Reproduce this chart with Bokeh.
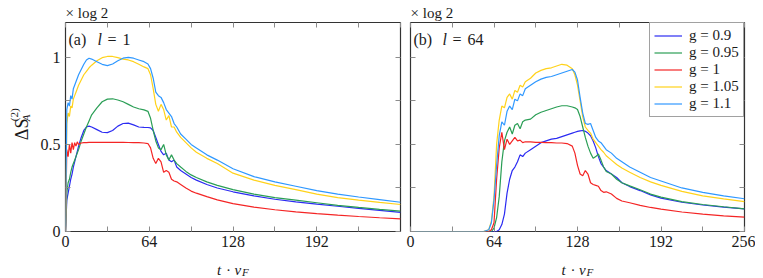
from bokeh.plotting import figure
from bokeh.models import Range1d, FixedTicker, LinearAxis, Label, CustomLabelingPolicy
from bokeh.layouts import row, column
from bokeh.core.properties import value
from bokeh.embed import file_html
from bokeh.resources import INLINE
import math

FONT = "Liberation Serif"
TXT = "#1a1a1a"

# ---------------- data ----------------
series_names = ["g = 0.9", "g = 0.95", "g = 1", "g = 1.05", "g = 1.1"]
colors = ["#2b2bf2", "#2a9e55", "#f42525", "#ffd21a", "#2f98ff"]

# panel (a): l = 1
t_a = [0, 1, 2, 3, 4, 5, 6, 7, 8, 9,
       10, 12, 14, 16, 18, 20, 24, 28, 32, 36,
       40, 44, 48, 52, 56, 60, 63, 65, 67, 69,
       71, 73, 75, 77, 79, 81, 83, 85, 88, 92,
       96, 100, 108, 116, 128, 144, 160, 176, 192, 208,
       224, 240, 256]
a_g090 = [0, 0.18, 0.22, 0.26, 0.30, 0.33, 0.37, 0.40, 0.43, 0.46,
          0.49, 0.54, 0.58, 0.60, 0.605, 0.60, 0.585, 0.57, 0.568, 0.58,
          0.605, 0.62, 0.622, 0.612, 0.60, 0.598, 0.597, 0.595, 0.58, 0.54,
          0.50, 0.46, 0.44, 0.45, 0.41, 0.40, 0.41, 0.37, 0.35, 0.33,
          0.31, 0.295, 0.27, 0.25, 0.228, 0.205, 0.185, 0.17, 0.157, 0.145,
          0.133, 0.121, 0.11]
a_g095 = [0, 0.22, 0.28, 0.30, 0.34, 0.37, 0.39, 0.41, 0.43, 0.45,
          0.47, 0.52, 0.56, 0.60, 0.635, 0.67, 0.71, 0.745, 0.76, 0.762,
          0.755, 0.745, 0.73, 0.715, 0.705, 0.698, 0.69, 0.65, 0.58, 0.52,
          0.48, 0.47, 0.50, 0.44, 0.41, 0.44, 0.41, 0.39, 0.37, 0.345,
          0.325, 0.31, 0.285, 0.265, 0.24, 0.215, 0.195, 0.18, 0.165, 0.15,
          0.138, 0.127, 0.117]
a_g100 = [0, 0.47, 0.43, 0.50, 0.45, 0.51, 0.47, 0.51, 0.49, 0.515,
          0.50, 0.508, 0.51, 0.51, 0.512, 0.512, 0.512, 0.512, 0.512, 0.512,
          0.512, 0.512, 0.511, 0.51, 0.51, 0.508, 0.505, 0.48, 0.42, 0.39,
          0.42, 0.40, 0.34, 0.35, 0.34, 0.30, 0.29, 0.285, 0.27, 0.25,
          0.232, 0.22, 0.2, 0.182, 0.16, 0.14, 0.125, 0.113, 0.103, 0.094,
          0.086, 0.079, 0.073]
a_g105 = [0, 0.62, 0.68, 0.66, 0.72, 0.71, 0.76, 0.78, 0.80, 0.82,
          0.84, 0.87, 0.90, 0.92, 0.94, 0.955, 0.98, 0.998, 1.005, 1.005,
          0.998, 0.99, 0.985, 0.975, 0.96, 0.945, 0.935, 0.90, 0.82, 0.73,
          0.69, 0.73, 0.70, 0.64, 0.665, 0.60, 0.60, 0.57, 0.54, 0.51,
          0.48, 0.455, 0.42, 0.39, 0.335, 0.295, 0.265, 0.24, 0.215, 0.195,
          0.18, 0.167, 0.155]
a_g110 = [0, 0.70, 0.74, 0.72, 0.78, 0.76, 0.82, 0.84, 0.86, 0.88,
          0.90, 0.93, 0.96, 0.985, 0.995, 0.99, 0.975, 0.96, 0.952, 0.962,
          0.98, 0.995, 1.0, 0.995, 0.985, 0.975, 0.962, 0.935, 0.88, 0.80,
          0.78, 0.77, 0.74, 0.70, 0.68, 0.66, 0.62, 0.60, 0.56, 0.53,
          0.50, 0.48, 0.44, 0.41, 0.36, 0.315, 0.285, 0.26, 0.235, 0.215,
          0.198, 0.183, 0.168]

# panel (b): l = 64
t_b = [0, 56, 60, 62, 64, 66, 68, 70, 72, 74,
       76, 78, 80, 82, 84, 86, 88, 92, 96, 100,
       104, 108, 112, 116, 120, 124, 126, 128, 130, 132,
       134, 136, 138, 140, 142, 144, 146, 148, 150, 154,
       158, 162, 168, 176, 184, 192, 208, 224, 240, 256]
b_g090 = [0, 0, 0, 0, 0, 0, 0.01, 0.04, 0.1, 0.22,
          0.30, 0.35, 0.37, 0.40, 0.44, 0.43, 0.45, 0.47, 0.49, 0.51,
          0.52, 0.53, 0.535, 0.545, 0.555, 0.565, 0.57, 0.575, 0.578, 0.58,
          0.575, 0.565, 0.55, 0.52, 0.48, 0.43, 0.39, 0.37, 0.35, 0.33,
          0.31, 0.28, 0.258, 0.235, 0.21, 0.192, 0.168, 0.152, 0.14, 0.13]
b_g095 = [0, 0, 0, 0, 0.02, 0.08, 0.2, 0.40, 0.52, 0.57,
          0.60, 0.56, 0.61, 0.62, 0.59, 0.63, 0.64, 0.645, 0.67, 0.685,
          0.695, 0.705, 0.715, 0.722, 0.722, 0.715, 0.71, 0.70, 0.66, 0.60,
          0.54, 0.49, 0.45, 0.42, 0.43, 0.445, 0.41, 0.37, 0.345, 0.33,
          0.30, 0.28, 0.262, 0.24, 0.215, 0.197, 0.172, 0.155, 0.142, 0.13]
b_g100 = [0, 0, 0, 0.01, 0.05, 0.3, 0.48, 0.57, 0.47, 0.53,
          0.50, 0.52, 0.54, 0.52, 0.525, 0.51, 0.515, 0.515, 0.512, 0.512,
          0.51, 0.51, 0.508, 0.508, 0.505, 0.49, 0.45, 0.38, 0.33, 0.32,
          0.35, 0.33, 0.28, 0.27, 0.265, 0.26, 0.235, 0.225, 0.228, 0.215,
          0.19, 0.175, 0.165, 0.15, 0.138, 0.128, 0.112, 0.1, 0.09, 0.082]
b_g105 = [0, 0, 0.01, 0.06, 0.2, 0.5, 0.64, 0.72, 0.71, 0.77,
          0.79, 0.76, 0.81, 0.80, 0.84, 0.83, 0.86, 0.88, 0.91, 0.925,
          0.935, 0.94, 0.95, 0.96, 0.955, 0.935, 0.90, 0.84, 0.75, 0.66,
          0.60, 0.58, 0.565, 0.53, 0.51, 0.49, 0.47, 0.455, 0.435, 0.41,
          0.385, 0.365, 0.34, 0.31, 0.285, 0.265, 0.23, 0.205, 0.187, 0.172]
b_g110 = [0, 0, 0.01, 0.05, 0.18, 0.38, 0.55, 0.63, 0.61, 0.69,
          0.72, 0.70, 0.76, 0.75, 0.79, 0.78, 0.82, 0.84, 0.86, 0.875,
          0.885, 0.89, 0.90, 0.91, 0.92, 0.93, 0.915, 0.87, 0.77, 0.68,
          0.62, 0.615, 0.62, 0.58, 0.54, 0.52, 0.51, 0.49, 0.47, 0.45,
          0.42, 0.40, 0.37, 0.34, 0.31, 0.29, 0.25, 0.225, 0.205, 0.188]

x_major_a = [0, 64, 128, 192]
x_major_b = [0, 64, 128, 192, 256]
x_minor = [32, 96, 160, 224]
y_major = [0, 0.5, 1.0]
y_minor = [0.25, 0.75]
y_labels = {0.0: "0", 0.5: "0.5", 1.0: "1"}
unit_text = "× log 2"

NO_LABELS = "return new Set()"
PANEL_H = 254


def style_axis(ax, major, minor, show_labels, overrides=None):
    ax.ticker = FixedTicker(ticks=major, minor_ticks=minor)
    ax.axis_line_color = None
    ax.major_tick_in = 5
    ax.major_tick_out = 0
    ax.minor_tick_in = 5
    ax.minor_tick_out = 0
    ax.major_tick_line_color = "#8c8c8c"
    ax.minor_tick_line_color = "#8c8c8c"
    ax.major_tick_line_width = 1
    ax.minor_tick_line_width = 1
    ax.major_label_text_font = FONT
    ax.major_label_text_color = TXT
    if show_labels:
        if overrides:
            ax.major_label_overrides = overrides
        ax.major_label_text_font_size = "16px"
    else:
        ax.major_label_text_font_size = "0px"
        ax.major_label_standoff = 0
        ax.major_label_policy = CustomLabelingPolicy(code=NO_LABELS)


def lbl(p, x, y, text, dx=0, dy=0, size="16px", style="normal"):
    p.add_layout(Label(x=x, y=y, text=text, x_offset=dx, y_offset=dy,
                       text_font=FONT, text_font_size=size, text_font_style=style,
                       text_align="left", text_baseline="alphabetic",
                       text_color=TXT))


def txt(fig, x, y, s, size="15px", style="normal", align="left", angle=0.0):
    fig.text(x=[x], y=[y], text=[s], text_font=value(FONT), text_font_size=size,
             text_font_style=style, text_align=align, text_baseline="alphabetic",
             angle=angle, text_color=TXT)


def make_panel(width, bl, br, t, ys, x_major, ylabels_on, tag, lval, with_legend):
    p = figure(width=width, height=PANEL_H, x_range=Range1d(0, 256), y_range=Range1d(0, 1.2),
               output_backend="svg", toolbar_location=None,
               min_border_left=bl, min_border_right=br, min_border_top=22, min_border_bottom=23)
    p.grid.visible = False
    p.outline_line_color = "#333333"
    p.outline_line_width = 1.2
    p.background_fill_color = "white"
    p.border_fill_color = "white"
    # "x log 2" multiplier as the panel title (top-left)
    p.title.text = unit_text
    p.title.align = "left"
    p.title.offset = 0
    p.title.standoff = 3
    p.title.text_font = FONT
    p.title.text_font_size = "15px"
    p.title.text_font_style = "normal"
    p.title.text_color = TXT

    style_axis(p.xaxis[0], x_major, x_minor, True)
    p.xaxis[0].major_label_standoff = 4
    style_axis(p.yaxis[0], y_major, y_minor, ylabels_on, y_labels)
    if ylabels_on:
        p.yaxis[0].major_label_standoff = 5
    top = LinearAxis()
    style_axis(top, x_major_b, x_minor, False)
    p.add_layout(top, "above")
    right = LinearAxis()
    style_axis(right, y_major, y_minor, False)
    p.add_layout(right, "right")

    for name, col, y in zip(series_names, colors, ys):
        if with_legend:
            p.line(t, y, line_color=col, line_width=1.2, legend_label=name)
        else:
            p.line(t, y, line_color=col, line_width=1.2)

    # panel tag inside the frame
    lbl(p, 0, 1.2, tag, dx=3, dy=-17)
    lbl(p, 0, 1.2, "l", dx=32, dy=-17, style="italic")
    lbl(p, 0, 1.2, "=", dx=42, dy=-17)
    lbl(p, 0, 1.2, lval, dx=57, dy=-17)
    return p


p1 = make_panel(369, 29, 5, t_a, [a_g090, a_g095, a_g100, a_g105, a_g110],
                x_major_a, True, "(a)", "1", False)
p2 = make_panel(350, 5, 11, t_b, [b_g090, b_g095, b_g100, b_g105, b_g110],
                x_major_b, False, "(b)", "64", True)

lg = p2.legend[0]
lg.location = "top_right"
lg.margin = 0
lg.padding = 4
lg.spacing = 0
lg.glyph_width = 28
lg.glyph_height = 17
lg.label_height = 17
lg.label_width = 50
lg.label_standoff = 7
lg.label_text_font = FONT
lg.label_text_font_size = "15px"
lg.label_text_color = TXT
lg.border_line_color = "#444444"
lg.border_line_width = 1
lg.background_fill_color = "white"
lg.background_fill_alpha = 1.0

# y-axis title column: Delta S_A^(2)
yfig = figure(width=36, height=PANEL_H, x_range=Range1d(0, 36), y_range=Range1d(PANEL_H, 0),
              output_backend="svg", toolbar_location=None, min_border=0,
              x_axis_location=None, y_axis_location=None)
yfig.outline_line_color = None
yfig.grid.visible = False
txt(yfig, 21, 143, "ΔS", size="18px", angle=math.pi / 2)
txt(yfig, 13, 120, "(2)", size="11px", angle=math.pi / 2)
txt(yfig, 25, 120, "A", size="11px", style="italic", angle=math.pi / 2)

# bottom strip: x-axis titles t . v_F
bot_strip = figure(width=755, height=23, x_range=Range1d(0, 755), y_range=Range1d(23, 0),
                   output_backend="svg", toolbar_location=None, min_border=0,
                   x_axis_location=None, y_axis_location=None)
bot_strip.outline_line_color = None
bot_strip.grid.visible = False
for cx in (232.5, 577.0):
    txt(bot_strip, cx - 16, 15.5, "t", style="italic")
    txt(bot_strip, cx - 4.5, 15.5, "·", align="center")
    txt(bot_strip, cx + 1.5, 15.5, "v", style="italic")
    txt(bot_strip, cx + 9, 17, "F", size="11px", style="italic")

layout = column(row(yfig, p1, p2), bot_strip)
open("out.html", "w").write(file_html(layout, INLINE))
